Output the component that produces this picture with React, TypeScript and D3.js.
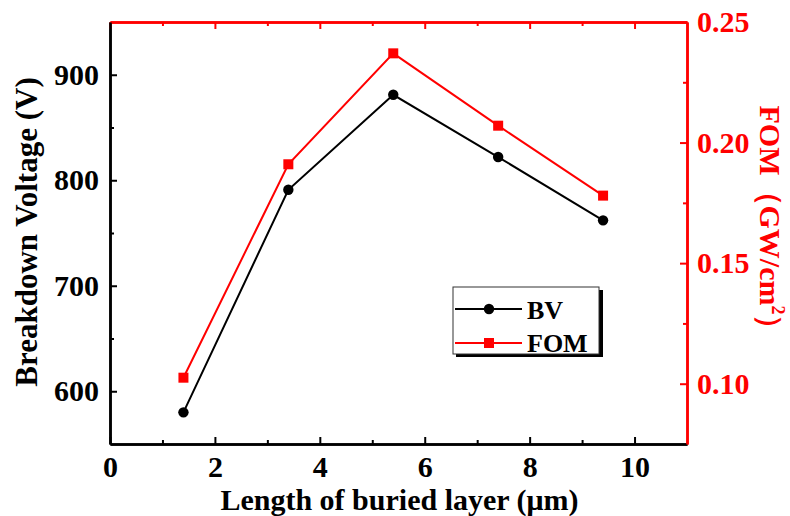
import * as d3 from "d3";
import { useEffect, useRef } from "react";

// buried layer length (um)
const lengths = [1.4, 3.4, 5.4, 7.4, 9.4];
// breakdown voltage (V)
const bvValues = [580, 791, 881, 822, 762];
// figure of merit (GW/cm2)
const fomValues = [0.1025, 0.191, 0.237, 0.207, 0.178];

const xTicks = [0, 2, 4, 6, 8, 10];
const xMinor = [1, 3, 5, 7, 9];
const bvTicks = [600, 700, 800, 900];
const bvMinor = [650, 750, 850];
const fomTicks = [0.1, 0.15, 0.2, 0.25];
const fomMinor = [0.125, 0.175, 0.225];

const seriesNames = ["BV", "FOM"];

const W = 790;
const H = 516;
const box = { left: 110, right: 687, top: 22, bottom: 444 };
const FONT = "'Liberation Serif', 'Times New Roman', serif";
const RED = "#ff0000";

export default function App() {
    const ref = useRef<SVGSVGElement>(null);

    const x = d3.scaleLinear([0, 11], [box.left, box.right]);
    const yBV = d3.scaleLinear([550, 950], [box.bottom, box.top]);
    const yFOM = d3.scaleLinear([0.075, 0.25], [box.bottom, box.top]);

    useEffect(() => {
        const svg = d3.select(ref.current);

        const style = (g: any, color: string, labels: boolean) => {
            g.selectAll(".domain").attr("stroke", color).attr("stroke-width", 2.5);
            g.selectAll(".tick line").attr("stroke", color).attr("stroke-width", 2);
            g.selectAll(".tick text")
                .attr("fill", color)
                .attr("font-family", FONT)
                .attr("font-weight", "bold")
                .attr("font-size", 30)
                .style("display", labels ? null : "none");
        };

        // bottom
        const gB = svg.select("#x-axis");
        gB.call(d3.axisBottom(x).tickValues(xTicks).tickSizeInner(-7).tickSizeOuter(0).tickPadding(12) as any);
        style(gB, "#000", true);
        const gBm = svg.select("#x-minor");
        gBm.call(d3.axisBottom(x).tickValues(xMinor).tickSizeInner(-4).tickSizeOuter(0).tickFormat(() => "") as any);
        style(gBm, "#000", false);

        // top
        const gT = svg.select("#x-top");
        gT.call(d3.axisTop(x).tickValues(xTicks).tickSizeInner(-7).tickSizeOuter(0).tickFormat(() => "") as any);
        style(gT, RED, false);
        const gTm = svg.select("#x-top-minor");
        gTm.call(d3.axisTop(x).tickValues(xMinor).tickSizeInner(-4).tickSizeOuter(0).tickFormat(() => "") as any);
        style(gTm, RED, false);

        // left
        const gL = svg.select("#y-axis");
        gL.call(d3.axisLeft(yBV).tickValues(bvTicks).tickSizeInner(-7).tickSizeOuter(0).tickPadding(11).tickFormat(d3.format("d")) as any);
        style(gL, "#000", true);
        const gLm = svg.select("#y-minor");
        gLm.call(d3.axisLeft(yBV).tickValues(bvMinor).tickSizeInner(-4).tickSizeOuter(0).tickFormat(() => "") as any);
        style(gLm, "#000", false);

        // right
        const gR = svg.select("#y2-axis");
        gR.call(d3.axisRight(yFOM).tickValues(fomTicks).tickSizeInner(-7).tickSizeOuter(0).tickPadding(10).tickFormat(d3.format(".2f")) as any);
        style(gR, RED, true);
        const gRm = svg.select("#y2-minor");
        gRm.call(d3.axisRight(yFOM).tickValues(fomMinor).tickSizeInner(-4).tickSizeOuter(0).tickFormat(() => "") as any);
        style(gRm, RED, false);
    }, []);

    const bvLine = d3.line<number>().x((d, i) => x(lengths[i])).y(d => yBV(d));
    const fomLine = d3.line<number>().x((d, i) => x(lengths[i])).y(d => yFOM(d));

    return (
        <svg ref={ref} width={W} height={H} style={{ position: "absolute", left: 0, top: 0, background: "#fff" }}>
            <g id="x-minor" transform={`translate(0, ${box.bottom})`} />
            <g id="x-top-minor" transform={`translate(0, ${box.top})`} />
            <g id="y-minor" transform={`translate(${box.left}, 0)`} />
            <g id="y2-minor" transform={`translate(${box.right}, 0)`} />
            <g id="x-top" transform={`translate(0, ${box.top})`} />
            <g id="y-axis" transform={`translate(${box.left}, 0)`} />
            <g id="x-axis" transform={`translate(0, ${box.bottom})`} />
            <g id="y2-axis" transform={`translate(${box.right}, 0)`} />

            <path d={fomLine(fomValues) ?? ""} fill="none" stroke={RED} strokeWidth={2} />
            {fomValues.map((v, i) => (
                <rect key={i} x={x(lengths[i]) - 5} y={yFOM(v) - 5} width={10} height={10} fill={RED} />
            ))}
            <path d={bvLine(bvValues) ?? ""} fill="none" stroke="#000" strokeWidth={2} />
            {bvValues.map((v, i) => (
                <circle key={i} cx={x(lengths[i])} cy={yBV(v)} r={5.2} fill="#000" />
            ))}

            {/* legend */}
            <g fontFamily={FONT} fontWeight="bold" fontSize={26}>
                <rect x={456} y={290} width={147} height={67} fill="#000" />
                <rect x={453} y={287} width={146} height={67} fill="#fff" stroke="#333" strokeWidth={1} />
                <line x1={455} x2={522} y1={309} y2={309} stroke="#000" strokeWidth={2} />
                <circle cx={489} cy={309} r={5.2} fill="#000" />
                <text x={527} y={319}>{seriesNames[0]}</text>
                <line x1={455} x2={522} y1={343} y2={343} stroke={RED} strokeWidth={2} />
                <rect x={484} y={338} width={10} height={10} fill={RED} />
                <text x={527} y={352}>{seriesNames[1]}</text>
            </g>

            {/* titles */}
            <text x={(box.left + box.right) / 2 + 1} y={510} textAnchor="middle" fontFamily={FONT} fontWeight="bold" fontSize={30}>
                Length of buried layer (μm)
            </text>
            <text transform="translate(37, 232) rotate(-90)" textAnchor="middle" fontFamily={FONT} fontWeight="bold" fontSize={31}>
                Breakdown Voltage (V)
            </text>
            <text transform="translate(760, 225) rotate(90)" textAnchor="middle" fontFamily={FONT} fontWeight="bold" fontSize={30} fill={RED}>
                FOM（GW/cm<tspan fontSize={18} dy={-12}>2</tspan><tspan dy={12}>）</tspan>
            </text>
        </svg>
    );
}
